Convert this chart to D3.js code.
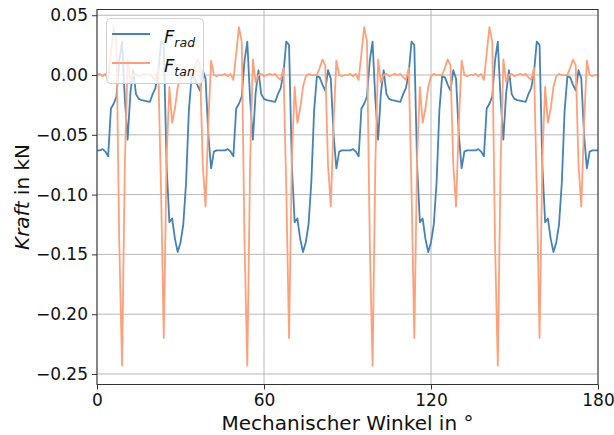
<!DOCTYPE html>
<html>
<head>
<meta charset="utf-8">
<script src="https://cdn.jsdelivr.net/npm/d3@7"></script>
<style>
  body { margin: 0; background: #fff; }
  svg { display: block; font-family: "DejaVu Sans", sans-serif; }
</style>
</head>
<body>
<div id="chart"></div>
<script>
// mechanical angle in degrees, one sample per degree
var angle = d3.range(0, 181);

// radial force in kN
var fRad = [
  -0.063, -0.063, -0.062, -0.064, -0.068, -0.028, -0.024, -0.018, 0.012, 0.028,
  -0.020, -0.054, -0.015, 0.004, -0.016, -0.020, -0.021, -0.0215, -0.022, -0.0225,
  -0.016, -0.011, 0.002, 0.028, 0.025, -0.075, -0.123, -0.120, -0.137, -0.148,
  -0.140, -0.125, -0.090, -0.030, -0.001, -0.002, -0.008, -0.013, 0.004, -0.003,
  -0.050, -0.078, -0.064, -0.063, -0.063,
  -0.063, -0.063, -0.062, -0.064, -0.068, -0.028, -0.024, -0.018, 0.012, 0.028,
  -0.020, -0.054, -0.015, 0.004, -0.016, -0.020, -0.021, -0.0215, -0.022, -0.0225,
  -0.016, -0.011, 0.002, 0.028, 0.025, -0.075, -0.123, -0.120, -0.137, -0.148,
  -0.140, -0.125, -0.090, -0.030, -0.001, -0.002, -0.008, -0.013, 0.004, -0.003,
  -0.050, -0.078, -0.064, -0.063, -0.063,
  -0.063, -0.063, -0.062, -0.064, -0.068, -0.028, -0.024, -0.018, 0.012, 0.028,
  -0.020, -0.054, -0.015, 0.004, -0.016, -0.020, -0.021, -0.0215, -0.022, -0.0225,
  -0.016, -0.011, 0.002, 0.028, 0.025, -0.075, -0.123, -0.120, -0.137, -0.148,
  -0.140, -0.125, -0.090, -0.030, -0.001, -0.002, -0.008, -0.013, 0.004, -0.003,
  -0.050, -0.078, -0.064, -0.063, -0.063,
  -0.063, -0.063, -0.062, -0.064, -0.068, -0.028, -0.024, -0.018, 0.012, 0.028,
  -0.020, -0.054, -0.015, 0.004, -0.016, -0.020, -0.021, -0.0215, -0.022, -0.0225,
  -0.016, -0.011, 0.002, 0.028, 0.025, -0.075, -0.123, -0.120, -0.137, -0.148,
  -0.140, -0.125, -0.090, -0.030, -0.001, -0.002, -0.008, -0.013, 0.004, -0.003,
  -0.050, -0.078, -0.064, -0.063, -0.063,
  -0.063
];

// tangential force in kN
var fTan = [
  0.000, 0.001, -0.001, 0.001, -0.004, 0.018, 0.040, 0.028, -0.140, -0.243,
  -0.075, 0.013, -0.006, 0.000, 0.001, -0.001, 0.000, 0.001, 0.000, 0.001,
  -0.002, -0.004, 0.006, -0.095, -0.220, -0.070, -0.010, -0.040, -0.028, -0.010,
  -0.001, 0.001, 0.000, 0.000, 0.000, 0.006, 0.013, 0.008, -0.075, -0.110,
  -0.040, 0.012, 0.000, -0.001, 0.000,
  0.000, 0.001, -0.001, 0.001, -0.004, 0.018, 0.040, 0.028, -0.140, -0.243,
  -0.075, 0.013, -0.006, 0.000, 0.001, -0.001, 0.000, 0.001, 0.000, 0.001,
  -0.002, -0.004, 0.006, -0.095, -0.220, -0.070, -0.010, -0.040, -0.028, -0.010,
  -0.001, 0.001, 0.000, 0.000, 0.000, 0.006, 0.013, 0.008, -0.075, -0.110,
  -0.040, 0.012, 0.000, -0.001, 0.000,
  0.000, 0.001, -0.001, 0.001, -0.004, 0.018, 0.040, 0.028, -0.140, -0.243,
  -0.075, 0.013, -0.006, 0.000, 0.001, -0.001, 0.000, 0.001, 0.000, 0.001,
  -0.002, -0.004, 0.006, -0.095, -0.220, -0.070, -0.010, -0.040, -0.028, -0.010,
  -0.001, 0.001, 0.000, 0.000, 0.000, 0.006, 0.013, 0.008, -0.075, -0.110,
  -0.040, 0.012, 0.000, -0.001, 0.000,
  0.000, 0.001, -0.001, 0.001, -0.004, 0.018, 0.040, 0.028, -0.140, -0.243,
  -0.075, 0.013, -0.006, 0.000, 0.001, -0.001, 0.000, 0.001, 0.000, 0.001,
  -0.002, -0.004, 0.006, -0.095, -0.220, -0.070, -0.010, -0.040, -0.028, -0.010,
  -0.001, 0.001, 0.000, 0.000, 0.000, 0.006, 0.013, 0.008, -0.075, -0.110,
  -0.040, 0.012, 0.000, -0.001, 0.000,
  0.000
];

var xTicks = [0, 60, 120, 180];
var yTicks = [-0.25, -0.20, -0.15, -0.10, -0.05, 0.00, 0.05];

var series = [
  {name: "rad", values: fRad, color: "#4682b4"},
  {name: "tan", values: fTan, color: "#ffa07a"}
];

var width = 614, height = 435;
var plotLeft = 97, plotRight = 598, plotTop = 9.5, plotBottom = 384.5;

var svg = d3.select("#chart").append("svg")
    .attr("width", width)
    .attr("height", height);

var x = d3.scaleLinear().domain([0, 180]).range([plotLeft, plotRight]);
var y = d3.scaleLinear().domain([-0.2588, 0.0548]).range([plotBottom, plotTop]);

svg.append("defs").append("clipPath").attr("id", "plot")
  .append("rect")
    .attr("x", plotLeft).attr("y", plotTop)
    .attr("width", plotRight - plotLeft).attr("height", plotBottom - plotTop);

// grid
var grid = svg.append("g").attr("stroke", "#b0b0b0").attr("stroke-width", 0.9);
grid.selectAll(".gx").data(xTicks).enter().append("line")
    .attr("x1", function(d) { return x(d); })
    .attr("x2", function(d) { return x(d); })
    .attr("y1", plotTop).attr("y2", plotBottom);
grid.selectAll(".gy").data(yTicks).enter().append("line")
    .attr("x1", plotLeft).attr("x2", plotRight)
    .attr("y1", function(d) { return y(d); })
    .attr("y2", function(d) { return y(d); });

// lines
var line = d3.line()
    .x(function(d, i) { return x(angle[i]); })
    .y(function(d) { return y(d); });

svg.append("g").attr("clip-path", "url(#plot)")
  .selectAll("path").data(series).enter().append("path")
    .attr("d", function(s) { return line(s.values); })
    .attr("fill", "none")
    .attr("stroke", function(s) { return s.color; })
    .attr("stroke-width", 1.8)
    .attr("stroke-linejoin", "round");

// axes
var fmt = function(d) { return d3.format(".2f")(d).replace("-", "\u2212"); };

var xAxis = svg.append("g")
    .attr("transform", "translate(0," + plotBottom + ")")
    .call(d3.axisBottom(x).tickValues(xTicks).tickSize(5).tickPadding(4).tickFormat(d3.format("d")));

var yAxis = svg.append("g")
    .attr("transform", "translate(" + plotLeft + ",0)")
    .call(d3.axisLeft(y).tickValues(yTicks).tickSize(5).tickPadding(4).tickFormat(fmt));

[xAxis, yAxis].forEach(function(a) {
  a.select(".domain").remove();
  a.selectAll(".tick line").attr("stroke", "#333").attr("stroke-width", 1);
  a.selectAll(".tick text").attr("fill", "#111")
    .style("font-family", "DejaVu Sans").style("font-size", "17px");
});

// frame
svg.append("rect")
    .attr("x", plotLeft).attr("y", plotTop)
    .attr("width", plotRight - plotLeft).attr("height", plotBottom - plotTop)
    .attr("fill", "none")
    .attr("stroke", "#333")
    .attr("stroke-width", 1);

// axis labels
svg.append("text")
    .attr("x", (plotLeft + plotRight) / 2)
    .attr("y", 430)
    .attr("text-anchor", "middle")
    .style("font-size", "20px")
    .attr("fill", "#111")
    .text("Mechanischer Winkel in \u00b0");

var ylab = svg.append("text")
    .attr("transform", "translate(29," + ((plotTop + plotBottom) / 2) + ") rotate(-90)")
    .attr("text-anchor", "middle")
    .style("font-size", "20px")
    .attr("fill", "#111");
ylab.append("tspan").style("font-style", "italic").text("Kraft");
ylab.append("tspan").text(" in kN");

// legend
var legend = svg.append("g");
legend.append("rect")
    .attr("x", 106.5).attr("y", 18.5)
    .attr("width", 97).attr("height", 65)
    .attr("rx", 4)
    .attr("fill", "#fff").attr("fill-opacity", 0.8)
    .attr("stroke", "#d0d0d0");

var item = legend.selectAll(".item").data(series).enter().append("g")
    .attr("transform", function(d, i) { return "translate(0," + (34 + i * 29) + ")"; });
item.append("line")
    .attr("x1", 112).attr("x2", 150)
    .attr("stroke", function(d) { return d.color; })
    .attr("stroke-width", 1.8);
var lt = item.append("text")
    .attr("x", 164).attr("y", 8.5)
    .style("font-size", "18px")
    .style("font-style", "italic")
    .attr("fill", "#111");
lt.append("tspan").text("F");
lt.append("tspan").attr("dy", 4).style("font-size", "12.5px").text(function(d) { return d.name; });
</script>
</body>
</html>
